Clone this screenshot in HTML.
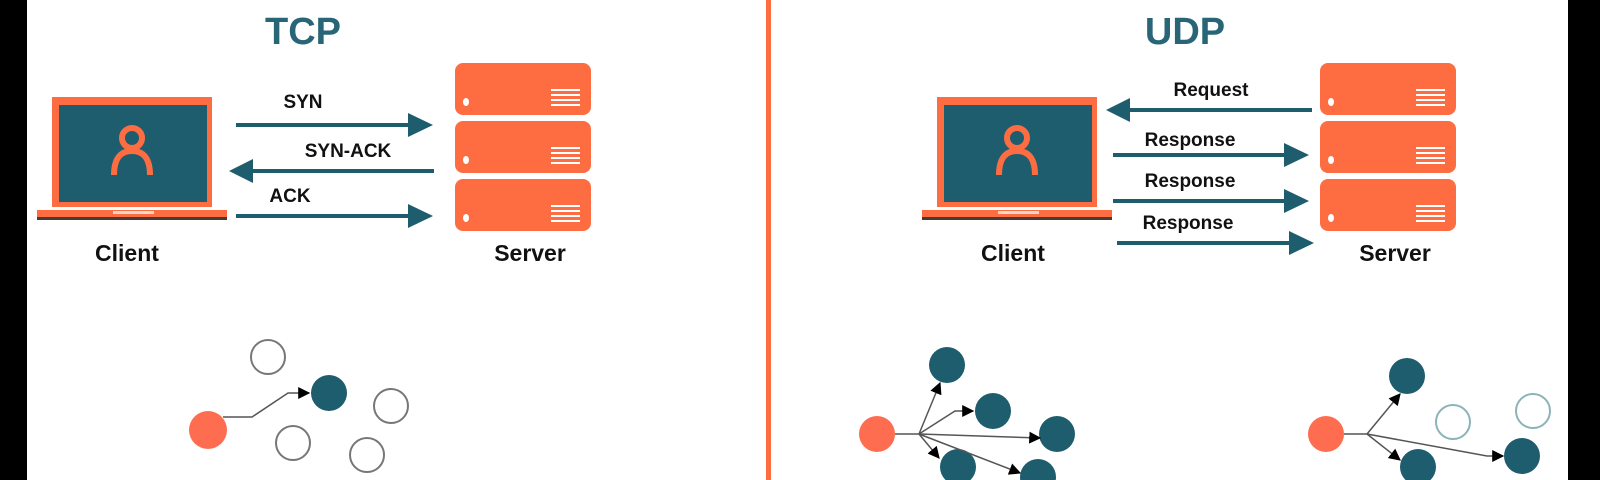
<!DOCTYPE html>
<html><head><meta charset="utf-8"><style>
html,body{margin:0;padding:0;background:#fff;}
svg{display:block;}
text{font-family:"Liberation Sans",sans-serif;font-weight:bold;}
</style></head><body>
<svg width="1600" height="480" viewBox="0 0 1600 480" xmlns="http://www.w3.org/2000/svg">
<defs>
<marker id="ah2" viewBox="0 0 10 10" refX="9" refY="5" markerWidth="12" markerHeight="12" markerUnits="userSpaceOnUse" orient="auto"><path d="M0,0 L10,5 L0,10 z" fill="#000"/></marker>
<g id="srv">
<rect x="0" y="0" width="136" height="52" rx="8" fill="#fe6d42"/>
<ellipse cx="11" cy="39" rx="3" ry="4" fill="#fff"/>
<rect x="96" y="26" width="29" height="2" fill="#fff"/>
<rect x="96" y="31" width="29" height="2" fill="#fff"/>
<rect x="96" y="36" width="29" height="2" fill="#fff"/>
<rect x="96" y="41" width="29" height="2" fill="#fff"/>
</g>
<g id="laptop">
<rect x="15" y="0" width="160" height="110" fill="#fe6d42"/>
<rect x="22" y="8" width="148" height="97" fill="#1e5d6e"/>
<rect x="0" y="113" width="190" height="8" fill="#fe6d42"/>
<rect x="0" y="120" width="190" height="3" fill="#4a3a35"/>
<rect x="76" y="114" width="41" height="3" fill="#f8d6c8"/>
<circle cx="95" cy="41" r="10" fill="none" stroke="#fe6d42" stroke-width="6"/>
<path d="M77,78 Q77,54 95,54 Q113,54 113,78" fill="none" stroke="#fe6d42" stroke-width="6"/>
</g>
</defs>
<rect x="0" y="0" width="27" height="480" fill="#000"/>
<rect x="1568" y="0" width="32" height="480" fill="#000"/>
<rect x="766" y="0" width="5" height="480" fill="#fe6d42"/>

<text x="303" y="44" font-size="38" fill="#286577" text-anchor="middle">TCP</text>
<use href="#laptop" x="37" y="97"/>
<use href="#srv" x="455" y="63"/>
<use href="#srv" x="455" y="121"/>
<use href="#srv" x="455" y="179"/>
<text x="303" y="108" font-size="19" fill="#111" text-anchor="middle">SYN</text>
<text x="348" y="157" font-size="19" fill="#111" text-anchor="middle">SYN-ACK</text>
<text x="290" y="202" font-size="19" fill="#111" text-anchor="middle">ACK</text>
<g fill="#1e5d6e">
<rect x="236" y="123" width="175" height="4"/><path d="M408,113 L433,125 L408,137z"/>
<rect x="250" y="169" width="184" height="4"/><path d="M253,159 L229,171 L253,183z"/>
<rect x="236" y="214" width="175" height="4"/><path d="M408,204 L433,216 L408,228z"/>
</g>
<text x="127" y="261" font-size="23" fill="#111" text-anchor="middle">Client</text>
<text x="530" y="261" font-size="23" fill="#111" text-anchor="middle">Server</text>

<text x="1185" y="44" font-size="38" fill="#286577" text-anchor="middle">UDP</text>
<use href="#laptop" x="922" y="97"/>
<use href="#srv" x="1320" y="63"/>
<use href="#srv" x="1320" y="121"/>
<use href="#srv" x="1320" y="179"/>
<text x="1211" y="96" font-size="19" fill="#111" text-anchor="middle">Request</text>
<text x="1190" y="146" font-size="19" fill="#111" text-anchor="middle">Response</text>
<text x="1190" y="187" font-size="19" fill="#111" text-anchor="middle">Response</text>
<text x="1188" y="229" font-size="19" fill="#111" text-anchor="middle">Response</text>
<g fill="#1e5d6e">
<rect x="1128" y="108" width="184" height="4"/><path d="M1130,98 L1106,110 L1130,122z"/>
<rect x="1113" y="153" width="173" height="4"/><path d="M1284,143 L1309,155 L1284,167z"/>
<rect x="1113" y="199" width="173" height="4"/><path d="M1284,189 L1309,201 L1284,213z"/>
<rect x="1117" y="241" width="173" height="4"/><path d="M1289,231 L1314,243 L1289,255z"/>
</g>
<text x="1013" y="261" font-size="23" fill="#111" text-anchor="middle">Client</text>
<text x="1395" y="261" font-size="23" fill="#111" text-anchor="middle">Server</text>

<g fill="none" stroke="#777" stroke-width="2">
<circle cx="268" cy="357" r="17"/><circle cx="391" cy="406" r="17"/>
<circle cx="293" cy="443" r="17"/><circle cx="367" cy="455" r="17"/>
</g>
<circle cx="208" cy="430" r="19" fill="#fe6d50"/>
<circle cx="329" cy="393" r="18" fill="#1e5d6e"/>
<path d="M223,417 L252,417 L288,393 L309,393" fill="none" stroke="#555" stroke-width="1.5" marker-end="url(#ah2)"/>

<circle cx="877" cy="434" r="18" fill="#fe6d50"/>
<g fill="#1e5d6e">
<circle cx="947" cy="365" r="18"/><circle cx="993" cy="411" r="18"/>
<circle cx="1057" cy="434" r="18"/><circle cx="958" cy="467" r="18"/><circle cx="1038" cy="477" r="18"/>
</g>
<g fill="none" stroke="#555" stroke-width="1.5">
<path d="M895,434 L919,434"/>
<path d="M919,434 L940,383" marker-end="url(#ah2)"/>
<path d="M919,434 L955,411 L973,411" marker-end="url(#ah2)"/>
<path d="M919,434 L1040,438" marker-end="url(#ah2)"/>
<path d="M919,434 L939,458" marker-end="url(#ah2)"/>
<path d="M919,434 L1020,473" marker-end="url(#ah2)"/>
</g>

<circle cx="1326" cy="434" r="18" fill="#fe6d50"/>
<g fill="#1e5d6e">
<circle cx="1407" cy="376" r="18"/><circle cx="1418" cy="467" r="18"/><circle cx="1522" cy="456" r="18"/>
</g>
<g fill="none" stroke="#8bb3b8" stroke-width="2">
<circle cx="1453" cy="422" r="17"/><circle cx="1533" cy="411" r="17"/>
</g>
<g fill="none" stroke="#555" stroke-width="1.5">
<path d="M1344,434 L1367,434"/>
<path d="M1367,434 L1400,394" marker-end="url(#ah2)"/>
<path d="M1367,434 L1400,460" marker-end="url(#ah2)"/>
<path d="M1367,434 L1487,456 L1503,456" marker-end="url(#ah2)"/>
</g>
</svg>
</body></html>
